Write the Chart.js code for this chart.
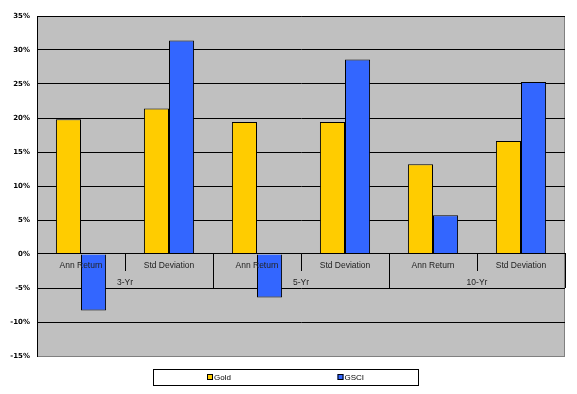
<!DOCTYPE html>
<html>
<head>
<meta charset="utf-8">
<script src="https://cdn.jsdelivr.net/npm/chart.js@4/dist/chart.umd.min.js"></script>
<style>
  html, body { margin: 0; padding: 0; background: #fff; }
  #wrap { width: 577px; height: 394px; }
</style>
</head>
<body>
<div id="wrap"><canvas id="chart" width="577" height="394"></canvas></div>
<script>
const measures = ["Ann Return", "Std Deviation", "Ann Return", "Std Deviation", "Ann Return", "Std Deviation"];
const periods = ["3-Yr", "5-Yr", "10-Yr"];
const goldValues = [19.8, 21.4, 19.4, 19.4, 13.2, 16.6];
const gsciValues = [-8.3, 31.4, -6.4, 28.6, 5.7, 25.3];
const yTicks = { min: -15, max: 35, step: 5 };

// gray plot area with a gray frame, drawn before the grid
const plotBackground = {
  id: "plotBackground",
  beforeDraw(chart) {
    const { ctx, chartArea: a } = chart;
    ctx.save();
    ctx.fillStyle = "#c0c0c0";
    ctx.fillRect(a.left, a.top, a.right - a.left, a.bottom - a.top);
    ctx.strokeStyle = "#808080";
    ctx.lineWidth = 1;
    ctx.strokeRect(a.left + 0.5, a.top + 0.5, a.right - a.left - 1, a.bottom - a.top);
    ctx.restore();
  }
};

// boxed legend like the Excel one, items spread apart
const boxLegend = {
  id: "boxLegend",
  afterDraw(chart) {
    const ctx = chart.ctx;
    ctx.save();
    ctx.fillStyle = "#fff";
    ctx.fillRect(153, 369, 265, 16);
    ctx.strokeStyle = "#000";
    ctx.lineWidth = 1;
    ctx.strokeRect(153.5, 369.5, 265, 16);
    const xs = [207, 337.5];
    ctx.font = "8px 'Liberation Sans', Arial, sans-serif";
    ctx.textBaseline = "middle";
    chart.data.datasets.forEach((ds, i) => {
      ctx.fillStyle = ds.backgroundColor;
      ctx.fillRect(xs[i], 374, 6, 6);
      ctx.strokeStyle = "#000";
      ctx.strokeRect(xs[i] + 0.5, 374.5, 5, 5);
      ctx.fillStyle = "#000";
      ctx.fillText(ds.label, xs[i] + 7, 377.5);
    });
    ctx.restore();
  }
};

Chart.defaults.font.family = "'Liberation Sans', Arial, sans-serif";
Chart.defaults.animation = false;

new Chart(document.getElementById("chart"), {
  type: "bar",
  data: {
    labels: measures,
    datasets: [
      {
        label: "Gold",
        data: goldValues,
        backgroundColor: "#ffcc00",
        borderColor: "#000",
        borderWidth: 1,
        barPercentage: 1,
        categoryPercentage: 0.57
      },
      {
        label: "GSCI",
        data: gsciValues,
        backgroundColor: "#3366ff",
        borderColor: "#000",
        borderWidth: 1,
        barPercentage: 1,
        categoryPercentage: 0.57
      }
    ]
  },
  options: {
    responsive: false,
    layout: { padding: { left: 0, top: 16, right: 12, bottom: 38 } },
    plugins: {
      legend: { display: false },
      tooltip: { enabled: false }
    },
    scales: {
      y: {
        min: yTicks.min,
        max: yTicks.max,
        afterFit(scale) { scale.width = 37; },
        ticks: {
          stepSize: yTicks.step,
          padding: 7,
          color: "#000",
          font: { family: "'DejaVu Sans', sans-serif", size: 7, weight: "bold" },
          callback: (v) => v + "%"
        },
        grid: {
          drawTicks: false,
          color: (c) => (c.tick && c.tick.value === yTicks.min ? "#808080" : "#000"),
          lineWidth: 1
        },
        border: { display: true, color: "#000" }
      },
      x: {
        position: { y: 0 },
        offset: true,
        ticks: {
          padding: -10,
          color: "#222",
          maxRotation: 0,
          autoSkip: false,
          font: { size: 8.5 },
          z: 1
        },
        grid: {
          offset: true,
          drawOnChartArea: false,
          drawTicks: true,
          tickLength: 17,
          tickColor: "#000"
        },
        border: { display: true, color: "#000", z: 1 }
      },
      x2: {
        type: "category",
        axis: "x",
        labels: periods,
        position: { y: 0 },
        offset: true,
        ticks: {
          padding: -10,
          color: "#222",
          maxRotation: 0,
          autoSkip: false,
          font: { size: 8.5 },
          z: 1
        },
        grid: {
          offset: true,
          drawOnChartArea: false,
          drawTicks: true,
          tickLength: 34,
          tickColor: "#000"
        },
        border: { display: false }
      }
    }
  },
  plugins: [plotBackground, boxLegend]
});
</script>
</body>
</html>
